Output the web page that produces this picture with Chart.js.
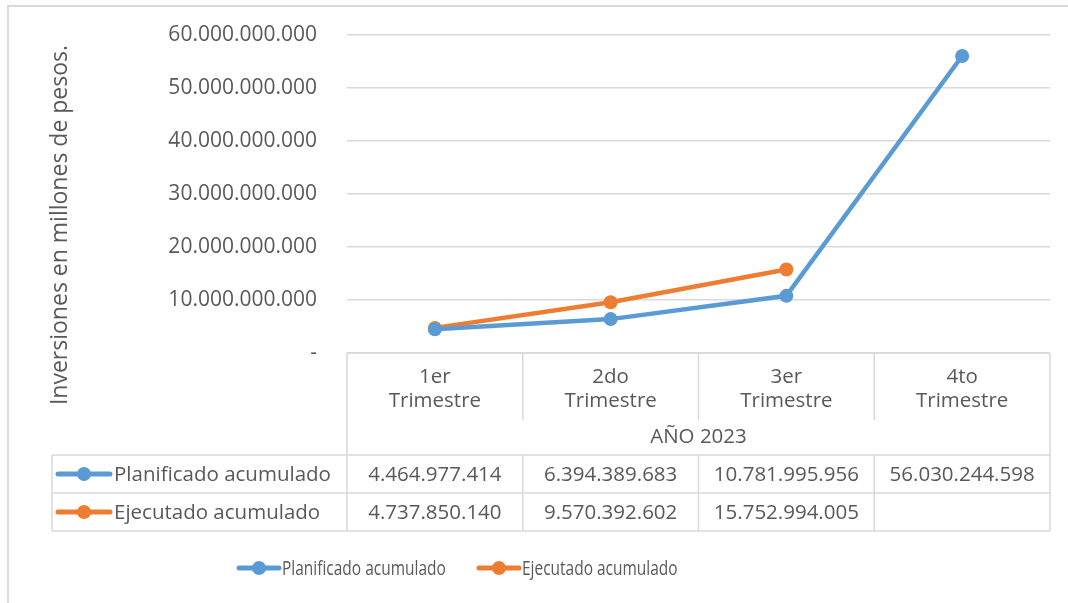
<!DOCTYPE html>
<html>
<head>
<meta charset="utf-8">
<script src="https://cdn.jsdelivr.net/npm/chart.js@4.4.1/dist/chart.umd.min.js"></script>
<style>
  html, body { margin: 0; padding: 0; background: #fff; }
  #wrap { width: 1068px; height: 603px; position: relative; }
</style>
</head>
<body>
<div id="wrap"><canvas id="inversionChart" width="1068" height="603"></canvas></div>
<script>
const categories = [['1er', 'Trimestre'], ['2do', 'Trimestre'], ['3er', 'Trimestre'], ['4to', 'Trimestre']];
const yearLabel = 'AÑO 2023';
const seriesNames = ['Planificado acumulado', 'Ejecutado acumulado'];
const planificado = [4464977414, 6394389683, 10781995956, 56030244598];
const ejecutado = [4737850140, 9570392602, 15752994005, null];
const seriesColors = ['#5B9BD5', '#ED7D31'];
const yTicks = [0, 10000000000, 20000000000, 30000000000, 40000000000, 50000000000, 60000000000];
const yTitle = 'Inversiones en millones de pesos.';

const textColor = '#595959';
const lineGray = '#d9d9d9';
const fontFam = '"Open Sans", "Noto Sans", sans-serif';

function formatNum(v) {
  if (v === null || v === undefined) return '';
  if (v === 0) return '-';
  return Math.round(v).toString().replace(/\B(?=(\d{3})+(?!\d))/g, '.');
}

function drawKey(ctx, x, y, len, color) {
  ctx.save();
  ctx.strokeStyle = color;
  ctx.lineWidth = 5;
  ctx.lineCap = 'round';
  ctx.beginPath();
  ctx.moveTo(x, y);
  ctx.lineTo(x + len, y);
  ctx.stroke();
  ctx.fillStyle = color;
  ctx.beginPath();
  ctx.arc(x + len / 2, y, 7, 0, Math.PI * 2);
  ctx.fill();
  ctx.restore();
}

// frame, axis title, data table and legend, Excel style
const tablePlugin = {
  id: 'tablePlugin',
  afterDraw(chart) {
    const ctx = chart.ctx;
    const x = chart.scales.x;
    const area = chart.chartArea;
    const top = area.bottom;
    const headBottom = top + 67;
    const yearBottom = top + 102;
    const row1Bottom = yearBottom + 38;
    const row2Bottom = row1Bottom + 38;
    const tableLeft = 52;
    const colW = x.getPixelForValue(1) - x.getPixelForValue(0);
    const edges = categories.map((c, i) => x.getPixelForValue(i) - colW / 2);
    edges.push(x.getPixelForValue(categories.length - 1) + colW / 2);
    const right = edges[edges.length - 1];

    ctx.save();
    // outer chart frame
    ctx.strokeStyle = lineGray;
    ctx.lineWidth = 2;
    ctx.beginPath();
    ctx.moveTo(8, 603);
    ctx.lineTo(8, 6);
    ctx.lineTo(1068, 6);
    ctx.stroke();

    // y axis title
    ctx.save();
    ctx.translate(60, 225);
    ctx.rotate(-Math.PI / 2);
    ctx.fillStyle = textColor;
    ctx.textAlign = 'center';
    ctx.textBaseline = 'middle';
    ctx.font = '23px ' + fontFam;
    ctx.fillText(yTitle, 0, 0);
    ctx.restore();

    // table lines
    ctx.lineWidth = 1.5;
    ctx.beginPath();
    ctx.moveTo(edges[0], top); ctx.lineTo(right, top);
    ctx.moveTo(tableLeft, yearBottom); ctx.lineTo(right, yearBottom);
    ctx.moveTo(tableLeft, row1Bottom); ctx.lineTo(right, row1Bottom);
    ctx.moveTo(tableLeft, row2Bottom); ctx.lineTo(right, row2Bottom);
    ctx.moveTo(tableLeft, yearBottom); ctx.lineTo(tableLeft, row2Bottom);
    ctx.moveTo(edges[0], top); ctx.lineTo(edges[0], row2Bottom);
    ctx.moveTo(right, top); ctx.lineTo(right, row2Bottom);
    for (let i = 1; i < edges.length - 1; i++) {
      ctx.moveTo(edges[i], top); ctx.lineTo(edges[i], headBottom);
      ctx.moveTo(edges[i], yearBottom); ctx.lineTo(edges[i], row2Bottom);
    }
    ctx.stroke();

    ctx.fillStyle = textColor;
    ctx.textAlign = 'center';
    ctx.textBaseline = 'middle';
    ctx.font = '20.5px ' + fontFam;
    categories.forEach((c, i) => {
      const cx = x.getPixelForValue(i);
      ctx.fillText(c[0], cx, top + 24);
      ctx.fillText(c[1], cx, top + 48);
    });
    ctx.fillText(yearLabel, (edges[0] + right) / 2, top + 84);

    const rows = [planificado, ejecutado];
    const rowY = [yearBottom + 20, row1Bottom + 20];
    rows.forEach((vals, r) => {
      vals.forEach((v, i) => {
        ctx.fillText(formatNum(v), x.getPixelForValue(i), rowY[r]);
      });
      drawKey(ctx, 58, rowY[r] - 1, 52, seriesColors[r]);
      ctx.textAlign = 'left';
      ctx.fillText(seriesNames[r], 114, rowY[r]);
      ctx.textAlign = 'center';
    });

    // legend
    const legX = [239, 479];
    ctx.textAlign = 'left';
    seriesNames.forEach((name, r) => {
      drawKey(ctx, legX[r], 568, 40, seriesColors[r]);
      ctx.save();
      ctx.translate(legX[r] + 43, 569);
      ctx.scale(0.755, 1);
      ctx.font = '20.5px ' + fontFam;
      ctx.fillText(name, 0, 0);
      ctx.restore();
    });
    ctx.restore();
  }
};

new Chart(document.getElementById('inversionChart'), {
  type: 'line',
  data: {
    labels: categories.map(c => c.join(' ')),
    datasets: [
      {
        label: seriesNames[0],
        data: planificado,
        borderColor: seriesColors[0],
        backgroundColor: seriesColors[0],
        borderWidth: 4.5,
        pointRadius: 7,
        pointBorderWidth: 0,
        tension: 0
      },
      {
        label: seriesNames[1],
        data: ejecutado,
        borderColor: seriesColors[1],
        backgroundColor: seriesColors[1],
        borderWidth: 4.5,
        pointRadius: 7,
        pointBorderWidth: 0,
        tension: 0
      }
    ]
  },
  options: {
    responsive: false,
    animation: false,
    layout: { padding: { left: 48, right: 18, top: 35, bottom: 250 } },
    plugins: {
      legend: { display: false },
      tooltip: { enabled: false },
      title: { display: false }
    },
    scales: {
      x: {
        display: false,
        offset: true
      },
      y: {
        min: 0,
        max: 60000000000,
        afterBuildTicks(scale) {
          scale.ticks = yTicks.map(v => ({ value: v }));
        },
        afterFit(scale) {
          scale.width = 299;
          scale.paddingTop = 0;
          scale.paddingBottom = 0;
        },
        border: { display: false },
        grid: { color: lineGray, lineWidth: 1.5, drawTicks: false },
        ticks: {
          padding: 30,
          color: textColor,
          font: { family: fontFam, size: 21 },
          callback: v => formatNum(v)
        },
        title: { display: false }
      }
    }
  },
  plugins: [tablePlugin]
});
</script>
</body>
</html>
